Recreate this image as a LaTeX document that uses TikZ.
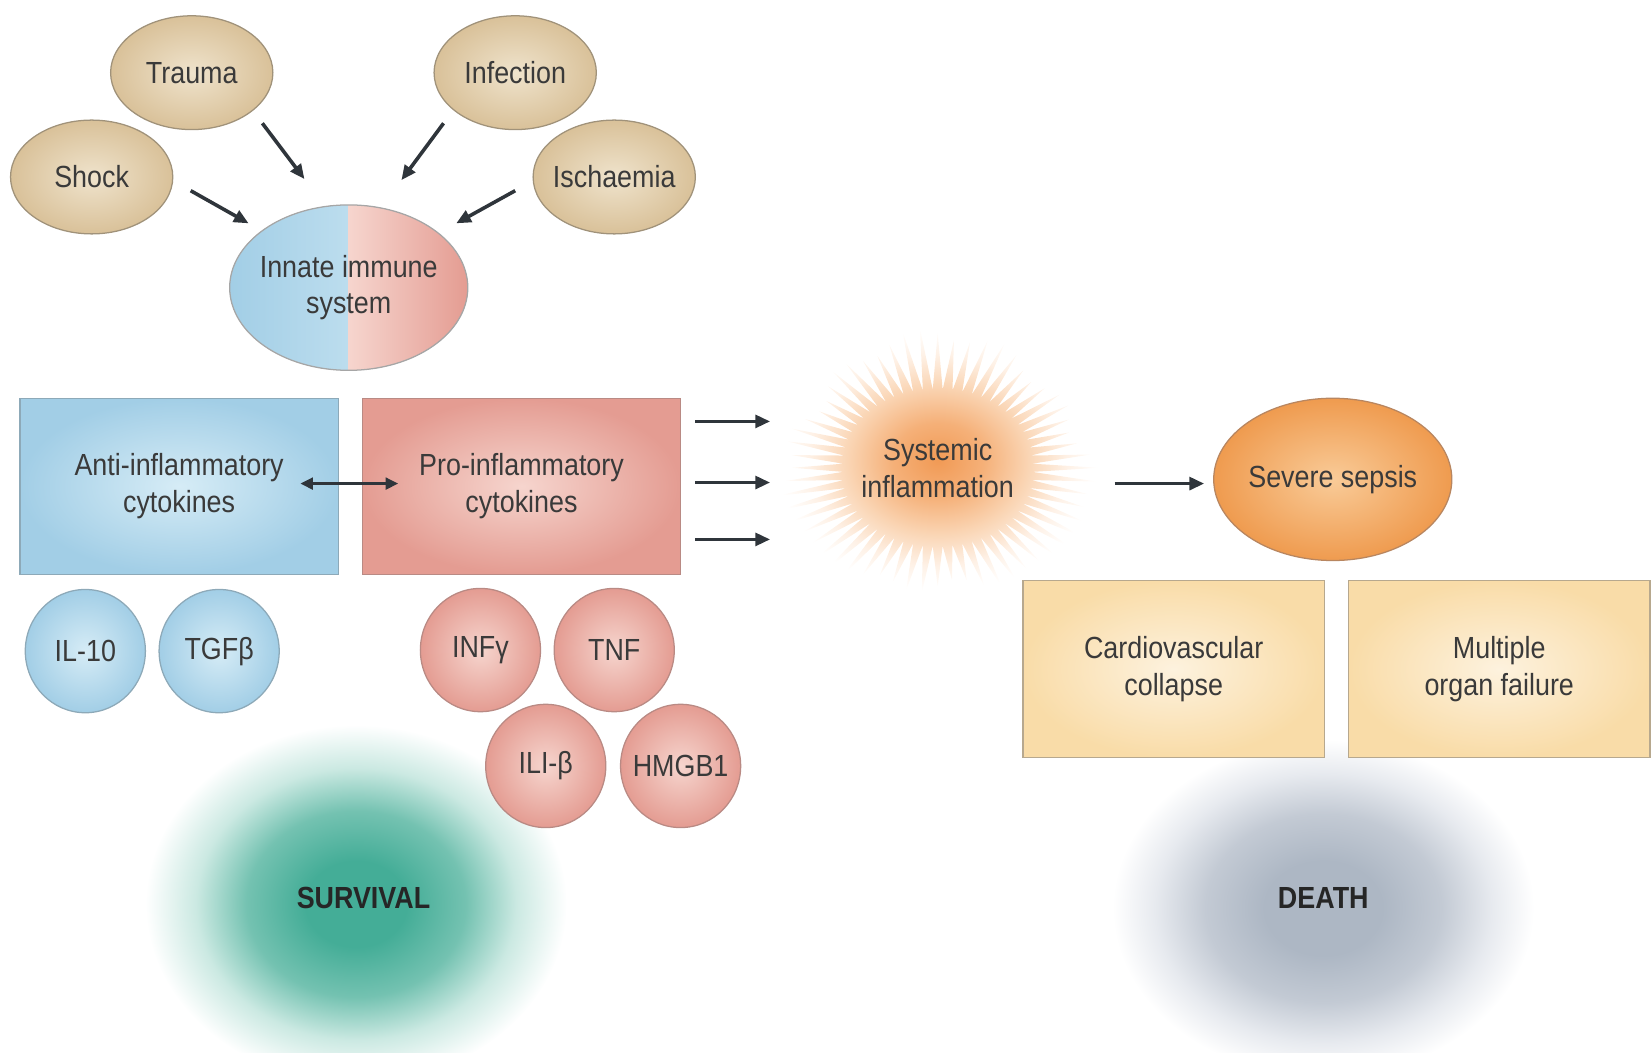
\documentclass[tikz,border=0pt]{standalone}
\usepackage{fontspec}
\setmainfont{Liberation Sans}[FakeStretch=0.88]
\usetikzlibrary{shapes.geometric,arrows.meta,calc}

\definecolor{txt}{HTML}{3A3A3A}
\definecolor{arrowc}{HTML}{2F353B}
\definecolor{tanouter}{HTML}{D9C199}
\definecolor{taninner}{HTML}{EFE3CC}
\definecolor{tanborder}{HTML}{A0927A}
\definecolor{blueouter}{HTML}{A2CEE6}
\definecolor{blueinner}{HTML}{D6ECF6}
\definecolor{blueborder}{HTML}{8DA9B8}
\definecolor{pinkouter}{HTML}{E49C92}
\definecolor{pinkinner}{HTML}{F6D5CE}
\definecolor{pinkborder}{HTML}{B98A84}
\definecolor{orgouter}{HTML}{EF9B4F}
\definecolor{orginner}{HTML}{F9CB98}
\definecolor{orgborder}{HTML}{B88660}
\definecolor{crmouter}{HTML}{F9DCA8}
\definecolor{crminner}{HTML}{FDF2DE}
\definecolor{crmborder}{HTML}{B7A88E}
\definecolor{burstA}{HTML}{F19A55}
\definecolor{burstB}{HTML}{F5B078}
\definecolor{burstC}{HTML}{FAD5B4}
\definecolor{burstD}{HTML}{FEF1E6}
\definecolor{tealA}{HTML}{44AD97}
\definecolor{tealB}{HTML}{74C2B1}
\definecolor{tealC}{HTML}{CBE9E2}
\definecolor{deathA}{HTML}{ADB7C4}
\definecolor{deathB}{HTML}{C3CAD4}
\definecolor{deathC}{HTML}{E7EAEF}

% TikZ maps the path's half-size to 25bp of a radial shading
\pgfdeclareradialshading{burstshade}{\pgfpoint{0bp}{0bp}}{color(0bp)=(burstA); color(7bp)=(burstB); color(14bp)=(burstC); color(20bp)=(burstD); color(25bp)=(white); color(50bp)=(white)}
\pgfdeclareradialshading{survshade}{\pgfpoint{0bp}{0bp}}{color(0bp)=(tealA); color(6bp)=(tealA); color(13bp)=(tealB); color(19bp)=(tealC); color(25bp)=(white); color(50bp)=(white)}
\pgfdeclareradialshading{deathshade}{\pgfpoint{0bp}{0bp}}{color(0bp)=(deathA); color(7bp)=(deathA); color(14bp)=(deathB); color(20bp)=(deathC); color(25bp)=(white); color(50bp)=(white)}

\tikzset{
  every node/.style={font=\fontsize{14.5}{17.5}\selectfont, text=txt},
  tanell/.style={ellipse, minimum width=77pt, minimum height=54pt, inner sep=0pt,
    draw=tanborder, line width=0.6pt, inner color=taninner, outer color=tanouter},
  bluecirc/.style={ellipse, minimum width=57pt, minimum height=58.5pt, inner sep=0pt,
    draw=blueborder, line width=0.6pt, inner color=blueinner, outer color=blueouter},
  pinkcirc/.style={ellipse, minimum width=57pt, minimum height=58.5pt, inner sep=0pt,
    draw=pinkborder, line width=0.6pt, inner color=pinkinner, outer color=pinkouter},
  bluebox/.style={rectangle, minimum width=151pt, minimum height=83.5pt, align=center,
    draw=blueborder, line width=0.6pt, inner color=blueinner, outer color=blueouter},
  pinkbox/.style={rectangle, minimum width=151pt, minimum height=83.5pt, align=center,
    draw=pinkborder, line width=0.6pt, inner color=pinkinner, outer color=pinkouter},
  crmbox/.style={rectangle, minimum width=143pt, minimum height=84pt, align=center,
    draw=crmborder, line width=0.6pt, inner color=crminner, outer color=crmouter},
  sepsisell/.style={ellipse, minimum width=113pt, minimum height=77pt, inner sep=0pt,
    draw=orgborder, line width=0.6pt, inner color=orginner, outer color=orgouter},
  innateell/.style={ellipse, minimum width=113pt, minimum height=78.5pt, inner sep=0pt,
    draw=gray!70, line width=0.6pt,
    path picture={
      \fill[left color=blueouter, right color=blueinner]
        (path picture bounding box.south west) rectangle (path picture bounding box.north);
      \fill[left color=pinkinner, right color=pinkouter]
        (path picture bounding box.south) rectangle (path picture bounding box.north east);
    }},
  arr/.style={draw=arrowc, line width=1.7pt, -{Triangle[length=7pt,width=6pt]}},
  darr/.style={draw=arrowc, line width=1.5pt, {Triangle[length=6pt,width=5.5pt]}-{Triangle[length=6pt,width=5.5pt]}},
  outcome/.style={font=\fontsize{14.5}{17.5}\selectfont\bfseries, text=black!85}
}

\begin{document}
\begin{tikzpicture}[x=0.5pt, y=-0.5pt]
\useasboundingbox (0,0) rectangle (1568,999);
\clip (0,0) rectangle (1568,999);

% soft outcome blobs
\shade[shading=survshade] (338,858) ellipse [x radius=200, y radius=170];
\shade[shading=deathshade] (1256,862) ellipse [x radius=200, y radius=160];

% starburst
\shade[shading=burstshade] plot[domain=0:360, samples=121, variable=\t]
  ({890+155*(0.58+(0.36+0.06*sin(3*\t)+0.05*cos(11*\t))*abs(mod(\t,6)-3)/3)*cos(\t)},
   {444+128*(0.58+(0.36+0.06*sin(3*\t)+0.05*cos(11*\t))*abs(mod(\t,6)-3)/3)*sin(\t)}) -- cycle;

% triggers
\node[tanell, label={center:Trauma}] (trauma) at (182,69) {};
\node[tanell, label={center:Infection}] (infection) at (489,69) {};
\node[tanell, label={center:Shock}] (shock) at (87,168) {};
\node[tanell, label={center:Ischaemia}] (ischaemia) at (583,168) {};

% innate immune system
\node[innateell, label={[align=center]center:Innate immune\\system}] (innate) at (331,273) {};

% cytokine boxes
\node[bluebox] (anti) at (170,461.5) {Anti-inflammatory\\cytokines};
\node[pinkbox] (pro) at (495,461.5) {Pro-inflammatory\\cytokines};

% cytokine circles
\node[bluecirc, label={center:IL-10}] (il10) at (81,618) {};
\node[bluecirc, label={center:TGFβ}] (tgfb) at (208,618) {};
\node[pinkcirc, label={center:INFγ}] (infg) at (456,617) {};
\node[pinkcirc, label={center:TNF}] (tnf) at (583,617) {};
\node[pinkcirc, label={center:ILI-β}] (il1b) at (518,727) {};
\node[pinkcirc, label={center:HMGB1}] (hmgb1) at (646,727) {};

% systemic inflammation
\node[align=center] (burst) at (890,444) {Systemic\\inflammation};

% severe sepsis and consequences
\node[sepsisell, label={center:Severe sepsis}] (sepsis) at (1265,455) {};
\node[crmbox] (cardio) at (1114,635) {Cardiovascular\\collapse};
\node[crmbox] (mof) at (1423,635) {Multiple\\organ failure};

% outcomes
\node[outcome] (survival) at (345,852) {SURVIVAL};
\node[outcome] (death) at (1256,852) {DEATH};

% arrows
\draw[arr] ($(trauma)+(67,48)$) -- ($(innate)+(-42,-103)$);
\draw[arr] ($(infection)+(-68,48)$) -- ($(innate)+(50,-102)$);
\draw[arr] ($(shock)+(94,13)$) -- ($(innate)+(-95,-61)$);
\draw[arr] ($(ischaemia)+(-94,13)$) -- ($(innate)+(102,-61)$);

\draw[darr] ($(anti)+(115,-2.5)$) -- ($(pro)+(-117,-2.5)$);

\draw[arr] ($(pro)+(165,-61.5)$) -- ($(burst)+(-159,-44)$);
\draw[arr] ($(pro)+(165,-3.5)$) -- ($(burst)+(-159,14)$);
\draw[arr] ($(pro)+(165,50.5)$) -- ($(burst)+(-159,68)$);

\draw[arr] ($(burst)+(168,15)$) -- ($(sepsis)+(-122,4)$);
\end{tikzpicture}
\end{document}
